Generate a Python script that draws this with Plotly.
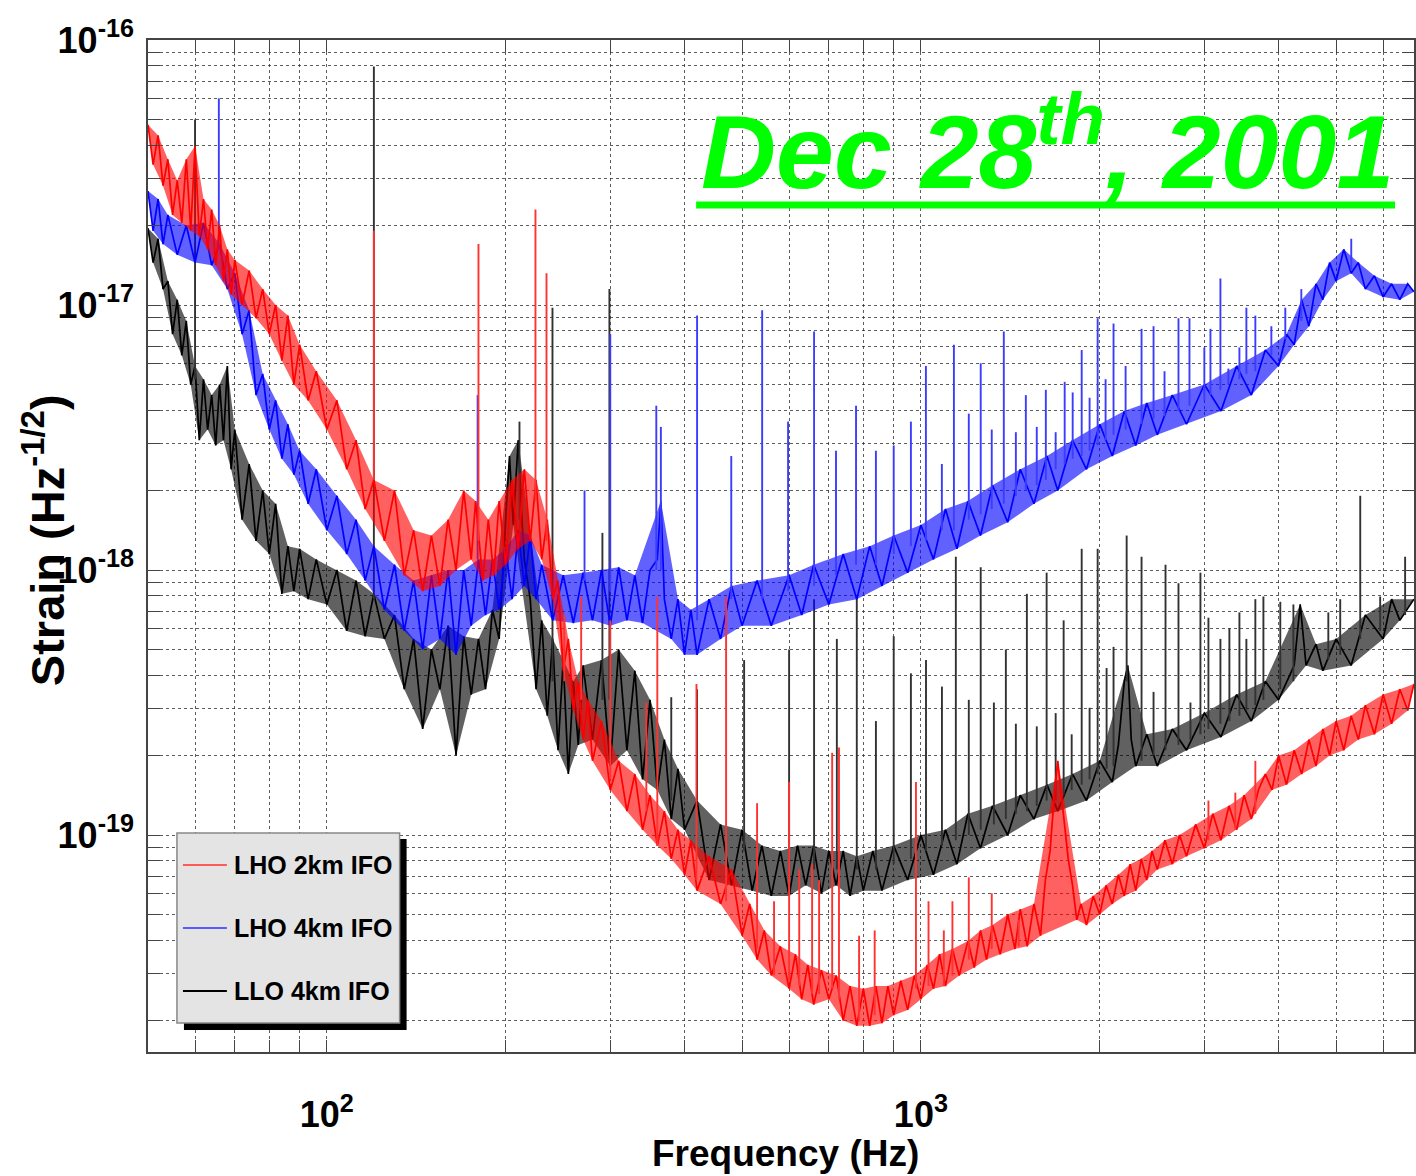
import numpy as np
import plotly.graph_objects as go

# ---------------- data: (frequency Hz, log10 strain) ----------------
# LHO 2km IFO (red) noise floor, alternating upper / lower edge of the noise band
lho2k_curve = [
    (50, -16.32), (51, -16.47), (52, -16.36), (53, -16.55), (54, -16.45), (55, -16.66), (56, -16.53),
    (57, -16.69), (58, -16.45), (59, -16.72), (60, -16.40), (61, -16.74), (62, -16.60), (63, -16.79),
    (64, -16.64), (65, -16.85), (66, -16.70), (67, -16.91), (68, -16.79), (69, -16.96), (70, -16.83),
    (72, -17.00), (74, -16.87), (76, -17.05), (78, -16.94), (80, -17.11), (82, -17.00), (84, -17.21),
    (86, -17.04), (88, -17.30), (90, -17.15), (93, -17.36), (96, -17.25), (100, -17.47), (104, -17.36),
    (108, -17.62), (112, -17.51), (116, -17.77), (120, -17.66), (125, -17.89), (130, -17.70), (135, -18.02),
    (140, -17.85), (145, -18.08), (150, -17.87), (155, -18.06), (160, -17.81), (165, -18.00), (170, -17.70),
    (175, -17.96), (178, -17.74), (183, -18.04), (187, -17.81), (191, -18.02), (195, -17.74), (200, -17.98),
    (205, -17.66), (210, -17.92), (215, -17.62), (220, -17.89), (225, -17.66), (230, -17.96), (235, -17.81),
    (240, -18.11), (245, -18.04), (250, -18.38), (255, -18.26), (260, -18.53), (265, -18.42), (270, -18.64),
    (275, -18.49), (280, -18.72), (290, -18.57), (300, -18.83), (310, -18.72), (320, -18.91), (330, -18.77),
    (340, -18.98), (350, -18.85), (360, -19.04), (370, -18.91), (380, -19.09), (390, -18.98), (400, -19.15),
    (410, -19.02), (420, -19.21), (440, -19.08), (460, -19.26), (480, -19.13), (500, -19.38), (515, -19.26),
    (530, -19.47), (545, -19.36), (560, -19.53), (580, -19.42), (600, -19.58), (615, -19.45), (630, -19.62),
    (645, -19.49), (660, -19.64), (680, -19.51), (700, -19.62), (720, -19.53), (740, -19.70), (760, -19.57),
    (780, -19.72), (800, -19.58), (820, -19.72), (840, -19.57), (860, -19.71), (880, -19.57), (900, -19.68),
    (925, -19.55), (950, -19.66), (975, -19.53), (1000, -19.62), (1025, -19.49), (1050, -19.58),
    (1075, -19.45), (1100, -19.57), (1130, -19.43), (1160, -19.53), (1200, -19.40), (1230, -19.50),
    (1260, -19.36), (1290, -19.47), (1320, -19.34), (1360, -19.45), (1400, -19.30), (1440, -19.43),
    (1470, -19.28), (1510, -19.42), (1550, -19.26), (1590, -19.38), (1620, -19.17), (1650, -19.06),
    (1680, -18.83), (1700, -18.72), (1720, -18.83), (1740, -18.94), (1770, -19.09), (1800, -19.19),
    (1830, -19.32), (1860, -19.26), (1900, -19.34), (1950, -19.23), (2000, -19.30), (2050, -19.19),
    (2100, -19.26), (2150, -19.15), (2200, -19.23), (2250, -19.11), (2300, -19.21), (2350, -19.09),
    (2400, -19.17), (2450, -19.06), (2500, -19.13), (2575, -19.02), (2650, -19.11), (2725, -19.00),
    (2800, -19.08), (2900, -18.96), (3000, -19.05), (3100, -18.92), (3200, -19.02), (3300, -18.89),
    (3400, -18.98), (3500, -18.85), (3600, -18.94), (3700, -18.83), (3800, -18.77), (3900, -18.83),
    (4000, -18.70), (4125, -18.81), (4250, -18.68), (4375, -18.77), (4500, -18.64), (4625, -18.74),
    (4750, -18.60), (4875, -18.70), (5000, -18.57), (5150, -18.68), (5300, -18.55), (5450, -18.64),
    (5600, -18.51), (5800, -18.62), (6000, -18.47), (6200, -18.58), (6400, -18.45), (6600, -18.53),
    (6760, -18.43),
]
# LHO 2km lines: (frequency, log10 peak, log10 foot)
lho2k_lines = [
    (120, -16.72, -17.66), (180, -16.77, -17.89), (224.5, -16.64, -17.74), (234.3, -16.88, -17.89),
    (251, -18.17, -18.42), (268, -18.10, -18.49), (300, -18.19, -18.79), (345, -18.50, -18.91),
    (360, -18.10, -19.04), (419, -18.43, -19.17), (470, -18.10, -19.25), (530, -18.88, -19.43),
    (566, -19.25, -19.53), (600, -18.80, -19.55), (624, -19.13, -19.57), (656, -19.11, -19.60),
    (674, -19.17, -19.60), (709, -18.69, -19.58), (728, -18.67, -19.62), (787, -19.38, -19.70),
    (836, -19.36, -19.68), (981, -18.80, -19.58), (1030, -19.25, -19.57), (1093, -19.36, -19.57),
    (1130, -19.25, -19.53), (1204, -19.16, -19.47), (1316, -19.22, -19.43), (1461, -19.32, -19.42),
    (3048, -18.87, -19.02), (3383, -18.84, -18.98), (3656, -18.72, -18.92),
]

# LHO 4km IFO (blue) noise floor
lho4k_curve = [
    (50, -16.57), (51, -16.72), (52, -16.60), (53, -16.77), (54, -16.66), (56, -16.81), (58, -16.70),
    (60, -16.84), (62, -16.69), (64, -16.85), (66, -16.77), (68, -16.94), (70, -16.88), (72, -17.11),
    (74, -17.02), (76, -17.34), (78, -17.26), (80, -17.47), (82, -17.36), (84, -17.58), (86, -17.45),
    (88, -17.64), (90, -17.55), (93, -17.75), (96, -17.62), (100, -17.85), (104, -17.72), (108, -17.94),
    (112, -17.81), (116, -18.04), (120, -17.91), (125, -18.15), (130, -17.98), (135, -18.23), (140, -18.04),
    (145, -18.30), (150, -18.02), (155, -18.26), (160, -18.00), (165, -18.32), (170, -18.00), (175, -18.21),
    (180, -17.96), (185, -18.17), (190, -17.96), (195, -18.15), (200, -17.92), (205, -18.11), (210, -17.85),
    (215, -18.06), (220, -17.87), (225, -18.11), (230, -17.98), (240, -18.19), (250, -18.02), (260, -18.20),
    (270, -18.01), (280, -18.19), (290, -18.00), (300, -18.21), (310, -17.99), (320, -18.19), (330, -18.02),
    (340, -18.20), (350, -18.00), (360, -17.96), (365, -17.74), (370, -18.11), (380, -18.26), (390, -18.11),
    (400, -18.32), (410, -18.15), (420, -18.32), (440, -18.11), (460, -18.26), (480, -18.06), (500, -18.21),
    (530, -18.04), (560, -18.21), (600, -18.02), (630, -18.17), (660, -17.98), (700, -18.13), (740, -17.94),
    (780, -18.11), (820, -17.91), (860, -18.06), (900, -17.87), (950, -18.01), (1000, -17.83), (1050, -17.96),
    (1100, -17.77), (1150, -17.92), (1200, -17.74), (1260, -17.87), (1320, -17.68), (1400, -17.82),
    (1470, -17.62), (1550, -17.75), (1630, -17.57), (1700, -17.70), (1800, -17.51), (1900, -17.62),
    (2000, -17.45), (2100, -17.57), (2200, -17.40), (2300, -17.53), (2400, -17.37), (2500, -17.49),
    (2650, -17.34), (2800, -17.45), (3000, -17.30), (3200, -17.40), (3400, -17.23), (3600, -17.34),
    (3800, -17.17), (4000, -17.23), (4125, -17.11), (4250, -17.15), (4375, -16.98), (4500, -17.08),
    (4625, -16.92), (4750, -16.98), (4875, -16.84), (5000, -16.91), (5150, -16.79), (5300, -16.88),
    (5450, -16.84), (5600, -16.94), (5800, -16.89), (6000, -16.97), (6200, -16.92), (6400, -16.98),
    (6600, -16.92), (6760, -16.95),
]
lho4k_lines = [
    (65.8, -16.22, -16.79), (179.4, -17.34, -17.96), (271.5, -17.70, -18.04), (300, -17.11, -18.08),
    (358.6, -17.38, -18.00), (365, -17.46, -18.00), (420, -17.04, -18.19), (479.5, -17.57, -18.11),
    (540.5, -17.02, -18.11), (597.6, -17.44, -18.08), (661, -17.10, -18.06), (719.6, -17.55, -18.02),
    (777.7, -17.38, -17.98), (840, -17.55, -17.98), (900, -17.53, -17.94), (962, -17.44, -17.91),
    (1019.6, -17.23, -17.89), (1084.7, -17.60, -17.85), (1136.5, -17.15, -17.85), (1204, -17.41, -17.81),
    (1261, -17.22, -17.79), (1316, -17.47, -17.77), (1379, -17.10, -17.75), (1445, -17.48, -17.72),
    (1502, -17.34, -17.70), (1567, -17.46, -17.68), (1623, -17.32, -17.66), (1686, -17.48, -17.62),
    (1746, -17.29, -17.60), (1801, -17.33, -17.58), (1865, -17.17, -17.57), (1923, -17.35, -17.55),
    (1984, -17.05, -17.53), (2046, -17.28, -17.51), (2110, -17.07, -17.49), (2211, -17.23, -17.47),
    (2352, -17.09, -17.45), (2464, -17.08, -17.43), (2571, -17.25, -17.42), (2714, -17.05, -17.40),
    (2832, -17.05, -17.38), (3000, -17.16, -17.36), (3072, -17.09, -17.34), (3193, -16.90, -17.32),
    (3293, -17.24, -17.30), (3437, -17.16, -17.28), (3531, -17.01, -17.26), (3656, -17.04, -17.25),
    (3890, -17.08, -17.19), (4106, -17.01, -17.13), (4369, -16.94, -17.06), (5302, -16.75, -16.87),
]

# LLO 4km IFO (black) noise floor
llo4k_curve = [
    (50, -16.71), (51, -16.84), (52, -16.75), (53, -16.94), (54, -16.91), (55, -17.11), (56, -16.98),
    (57, -17.19), (58, -17.06), (59, -17.30), (60, -17.23), (61, -17.51), (62, -17.28), (63, -17.47),
    (64, -17.34), (65, -17.53), (66, -17.30), (67, -17.51), (68, -17.23), (69, -17.62), (70, -17.47),
    (72, -17.81), (74, -17.60), (76, -17.89), (78, -17.70), (80, -17.94), (82, -17.75), (84, -18.09),
    (86, -17.91), (88, -18.08), (90, -17.92), (93, -18.11), (96, -17.96), (100, -18.13), (104, -18.00),
    (108, -18.23), (112, -18.04), (116, -18.25), (120, -18.09), (125, -18.26), (130, -18.17), (135, -18.45),
    (140, -18.26), (145, -18.60), (150, -18.30), (155, -18.45), (160, -18.21), (165, -18.70), (170, -18.25),
    (175, -18.47), (180, -18.26), (185, -18.45), (190, -18.15), (195, -18.26), (200, -17.81), (203, -17.57),
    (206, -17.83), (210, -17.51), (213, -17.81), (215, -17.96), (220, -18.11), (225, -18.45), (230, -18.19),
    (235, -18.55), (240, -18.26), (245, -18.68), (250, -18.34), (255, -18.77), (260, -18.42), (265, -18.66),
    (270, -18.36), (280, -18.64), (290, -18.34), (300, -18.74), (310, -18.30), (320, -18.68), (330, -18.38),
    (340, -18.79), (350, -18.49), (360, -18.83), (370, -18.64), (380, -18.94), (390, -18.75), (400, -18.98),
    (420, -18.87), (440, -19.17), (460, -18.96), (480, -19.19), (500, -18.98), (520, -19.21), (540, -19.04),
    (560, -19.23), (580, -19.06), (600, -19.23), (620, -19.04), (640, -19.19), (660, -19.04), (680, -19.22),
    (700, -19.06), (720, -19.19), (740, -19.06), (760, -19.23), (780, -19.08), (800, -19.21), (830, -19.06),
    (860, -19.21), (900, -19.04), (950, -19.17), (1000, -19.00), (1050, -19.15), (1100, -18.98),
    (1150, -19.11), (1200, -18.92), (1260, -19.05), (1320, -18.89), (1400, -19.00), (1470, -18.85),
    (1550, -18.94), (1630, -18.81), (1700, -18.91), (1800, -18.77), (1900, -18.87), (2000, -18.72),
    (2100, -18.80), (2150, -18.66), (2200, -18.42), (2230, -18.36), (2260, -18.64), (2300, -18.74),
    (2400, -18.62), (2500, -18.74), (2650, -18.60), (2800, -18.68), (3000, -18.54), (3200, -18.63),
    (3400, -18.47), (3600, -18.57), (3800, -18.42), (4000, -18.49), (4250, -18.36), (4350, -18.13),
    (4450, -18.36), (4625, -18.28), (4750, -18.38), (5000, -18.26), (5300, -18.36), (5600, -18.17),
    (6000, -18.26), (6200, -18.11), (6400, -18.19), (6760, -18.11),
]
llo4k_lines = [
    (60, -16.30, -17.28), (120, -16.10, -18.11), (211, -17.44, -17.81), (239.8, -17.01, -18.42),
    (291, -17.86, -18.49), (299, -16.94, -18.49), (380, -18.48, -18.87), (420, -18.45, -18.87),
    (504, -18.34, -19.06), (600, -18.30, -19.17), (661, -18.11, -19.13), (722, -18.26, -19.13),
    (780, -18.10, -19.13), (840, -18.57, -19.13), (900, -18.25, -19.11), (962, -18.39, -19.09),
    (1020, -18.34, -19.06), (1085, -18.44, -19.04), (1145, -17.95, -19.02), (1204, -18.49, -19.00),
    (1261, -17.99, -18.98), (1327, -18.50, -18.96), (1390, -18.30, -18.94), (1445, -18.58, -18.92),
    (1508, -18.09, -18.91), (1567, -18.59, -18.89), (1628, -18.01, -18.87), (1686, -18.54, -18.87),
    (1739, -18.19, -18.85), (1794, -18.62, -18.83), (1865, -17.92, -18.81), (1923, -18.52, -18.79),
    (1984, -17.92, -18.77), (2054, -18.37, -18.75), (2110, -18.29, -18.74), (2220, -17.87, -18.42),
    (2352, -17.95, -18.72), (2464, -18.46, -18.70), (2581, -17.98, -18.68), (2714, -18.05, -18.66),
    (2843, -18.50, -18.64), (2955, -18.01, -18.62), (3048, -18.18, -18.60), (3193, -18.26, -18.58),
    (3306, -18.22, -18.57), (3437, -18.16, -18.55), (3531, -18.26, -18.53), (3656, -18.11, -18.51),
    (3772, -18.10, -18.49), (4027, -18.12, -18.45), (4237, -18.13, -18.42), (4851, -18.16, -18.34),
    (5080, -18.11, -18.32), (5490, -17.72, -18.26), (5931, -18.10, -18.23), (6533, -17.95, -18.17),
]

series_names = ["LHO 2km IFO", "LHO 4km IFO", "LLO 4km IFO"]
series_colors = ["#ff0000", "#0000ff", "#000000"]
band_colors = ["rgba(255,0,0,0.62)", "rgba(0,0,255,0.62)", "rgba(0,0,0,0.62)"]
line_colors = ["rgb(255,50,50)", "rgb(60,60,255)", "rgb(50,50,50)"]

x_decade_labels = {100: "<b>10<sup>2</sup></b>", 1000: "<b>10<sup>3</sup></b>"}
y_decade_labels = {-16: "<b>10<sup>-16</sup></b>", -17: "<b>10<sup>-17</sup></b>",
                   -18: "<b>10<sup>-18</sup></b>", -19: "<b>10<sup>-19</sup></b>"}
date_text = "Dec 28<sup>th</sup>, 2001"

# ---------------- figure ----------------
FONT = "Liberation Sans, Arial, Helvetica, sans-serif"
fig = go.Figure()


def band_edges(pts):
    """Split the alternating noise readings into the upper and lower edge of the band."""
    v = [p[1] for p in pts]
    up, lo = [], []
    n = len(pts)
    for i, p in enumerate(pts):
        left = v[i - 1] if i > 0 else None
        right = v[i + 1] if i < n - 1 else None
        if (left is None or v[i] >= left) and (right is None or v[i] >= right):
            up.append(p)
        if (left is None or v[i] <= left) and (right is None or v[i] <= right):
            lo.append(p)
    return up, lo


curves = [lho2k_curve, lho4k_curve, llo4k_curve]
lines = [lho2k_lines, lho4k_lines, llo4k_lines]
draw_order = [2, 1, 0]  # black under blue under red
for i in draw_order:
    up, lo = band_edges(curves[i])
    poly = up + lo[::-1]
    fig.add_trace(go.Scatter(x=[p[0] for p in poly], y=[10 ** p[1] for p in poly],
                             mode="lines", fill="toself", fillcolor=band_colors[i],
                             line=dict(width=0), name=series_names[i] + " band",
                             hoverinfo="skip"))
    fig.add_trace(go.Scatter(x=[p[0] for p in curves[i]], y=[10 ** p[1] for p in curves[i]],
                             mode="lines", line=dict(color=series_colors[i], width=1.7),
                             name=series_names[i], hoverinfo="skip"))
    sx, sy = [], []
    for (lf, top, foot) in lines[i]:
        sx += [lf, lf, None]
        sy += [10 ** foot, 10 ** top, None]
    fig.add_trace(go.Scatter(x=sx, y=sy, mode="lines", name=series_names[i] + " lines",
                             line=dict(color=line_colors[i], width=1.9), hoverinfo="skip"))

L, R, T, B = 148, 1416, 40, 1052
W, H = 1416, 1176
PW, PH = R - L, B - T


def px(xp):
    return (xp - L) / PW


def py(yp):
    return (B - yp) / PH


x_ticks = [m * 10 ** d for d in (1, 2, 3) for m in range(1, 10) if 50 <= m * 10 ** d <= 6000]
x_text = [x_decade_labels.get(v, "") for v in x_ticks]
y_ticks, y_text = [], []
for d in (-20, -19, -18, -17, -16):
    for m in range(1, 10):
        val = m * 10.0 ** d
        if 1.5e-20 <= val <= 1.0001e-16:
            y_ticks.append(val)
            y_text.append(y_decade_labels.get(d, "") if m == 1 else "")

grid = dict(showgrid=True, gridcolor="rgba(40,40,40,0.75)", griddash="dot", gridwidth=1,
            ticks="inside", ticklen=12, tickcolor="#444", showline=True, linecolor="#444",
            linewidth=1.5, mirror="ticks", zeroline=False)

fig.update_layout(
    width=W, height=H, margin=dict(l=L, r=W - R, t=T, b=H - B),
    paper_bgcolor="white", plot_bgcolor="white", showlegend=False,
    font=dict(family=FONT, color="black"),
    xaxis=dict(type="log", range=[np.log10(50), np.log10(50) + PW / 595.0],
               tickmode="array", tickvals=x_ticks, ticktext=x_text,
               tickfont=dict(size=36, family=FONT), ticklabelstandoff=30, **grid),
    yaxis=dict(type="log", range=[-16.0 - PH / 265.0, -16.0],
               tickmode="array", tickvals=y_ticks, ticktext=y_text,
               tickfont=dict(size=36, family=FONT), ticklabelstandoff=5, **grid),
)

# axis titles
fig.add_annotation(text="<b>Frequency (Hz)</b>", xref="paper", yref="paper",
                   x=px(787), y=py(1153), xanchor="center", yanchor="middle",
                   showarrow=False, font=dict(size=37, family=FONT, color="black"))
fig.add_annotation(text="<b>Strain (Hz<sup>-1/2</sup>)</b>", xref="paper", yref="paper",
                   x=px(44), y=py(540), xanchor="center", yanchor="middle", textangle=-90,
                   showarrow=False, font=dict(size=47, family=FONT, color="black"))

# date banner
fig.add_annotation(text="<b><i>" + date_text + "</i></b>", xref="paper", yref="paper",
                   x=px(700), y=py(144), xanchor="left", yanchor="middle",
                   showarrow=False, font=dict(size=104, family=FONT, color="#00ff00"))
fig.add_shape(type="line", xref="paper", yref="paper", x0=px(697), x1=px(1397),
              y0=py(205), y1=py(205), line=dict(color="#00ff00", width=7), layer="above")

# legend drawn as a boxed key with a drop shadow
fig.add_shape(type="rect", xref="paper", yref="paper", x0=px(184), x1=px(407), y0=py(1030), y1=py(839),
              fillcolor="black", line=dict(width=0), layer="above")
fig.add_shape(type="rect", xref="paper", yref="paper", x0=px(177), x1=px(400), y0=py(1023), y1=py(833),
              fillcolor="#e4e4e4", line=dict(color="#888", width=1.5), layer="above")
legend_rows = [865, 928, 991]
legend_sample = ["rgb(255,90,90)", "rgb(90,90,255)", "black"]
for k in range(3):
    fig.add_shape(type="line", xref="paper", yref="paper", x0=px(183), x1=px(227),
                  y0=py(legend_rows[k]), y1=py(legend_rows[k]),
                  line=dict(color=legend_sample[k], width=2), layer="above")
    fig.add_annotation(text="<b>" + series_names[k] + "</b>", xref="paper", yref="paper",
                       x=px(232), y=py(legend_rows[k]), xanchor="left", yanchor="middle",
                       showarrow=False, font=dict(size=25, family=FONT, color="black"))

fig.write_html("out.html")
